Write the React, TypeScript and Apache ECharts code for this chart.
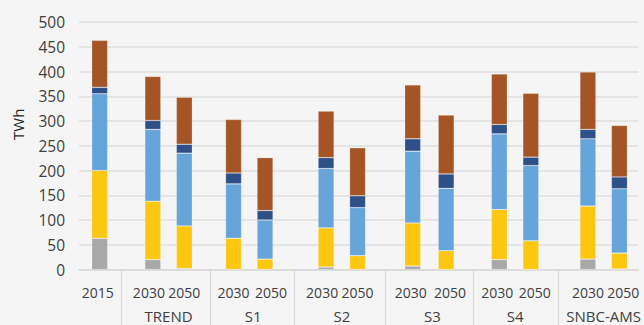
import React, { useEffect, useRef } from "react";
import * as echarts from "echarts";

// ---- data ----
const groups = ["", "TREND", "S1", "S2", "S3", "S4", "SNBC-AMS"];
const periods = ["2015", "2030", "2050", "2030", "2050", "2030", "2050", "2030", "2050", "2030", "2050", "2030", "2050"];
const seriesNames = ["Série 1", "Série 2", "Série 3", "Série 4", "Série 5"];
const grey = [63, 20, 2, 0, 0, 5, 0, 7, 0, 20, 0, 21, 1];
const yellow = [137, 118, 86, 63, 21, 79, 28, 87, 38, 101, 58, 107, 32];
const lightBlue = [155, 145, 147, 110, 79, 120, 97, 145, 126, 153, 152, 136, 130];
const darkBlue = [13, 18, 18, 22, 19, 22, 24, 25, 29, 19, 17, 19, 24];
const brown = [95, 89, 95, 108, 107, 94, 97, 109, 119, 102, 129, 116, 104];
const yMax = 500;
const yStep = 50;
const yName = "TWh";

// ---- layout (fine slots along the x axis) ----
const SLOTS = 284;
const barSlots = [10, 37, 53, 78, 94, 125, 141, 169, 186, 213, 229, 258, 274];
const periodLabelSlots = [9, 35, 53, 78, 97, 123, 141, 168, 188, 212, 231, 258, 276];
const groupLabelSlots = [-1, 45, 88, 133, 179, 221, 266];
const separatorSlots = [21, 66, 109, 155, 200, 243];
const colors = ["#a8a8a8", "#fdc60f", "#66a5da", "#2d5089", "#a55525"];

const FONT = "'Open Sans', Lato, sans-serif";

export default function App() {
  const ref = useRef<HTMLDivElement>(null);
  useEffect(() => {
    if (!ref.current) return;
    const chart = echarts.init(ref.current, undefined, { renderer: "svg" });

    const categories = Array.from({ length: SLOTS }, (_, i) => String(i));
    const labelMap = new Map<number, string>();
    periodLabelSlots.forEach((s, i) => labelMap.set(s, periods[i]));
    groupLabelSlots.forEach((s, i) => {
      if (s >= 0 && groups[i]) labelMap.set(s, "{g|" + groups[i] + "}");
    });
    const sepSet = new Set(separatorSlots);

    const spread = (vals: number[]) => {
      const arr: (number | null)[] = Array(SLOTS).fill(null);
      barSlots.forEach((s, i) => (arr[s] = vals[i]));
      return arr;
    };
    const all = [grey, yellow, lightBlue, darkBlue, brown];

    chart.setOption({
      animation: false,
      backgroundColor: "#f5f5f5",
      grid: { left: 79, right: 5, top: 22, bottom: 55.5 },
      xAxis: {
        type: "category",
        data: categories,
        boundaryGap: true,
        axisLine: { show: true, lineStyle: { color: "#d9d9d9", width: 1.5 } },
        axisTick: {
          show: true,
          alignWithLabel: true,
          interval: (i: number) => sepSet.has(i),
          length: 56,
          lineStyle: { color: "#d9d9d9", width: 1.3 },
        },
        axisLabel: {
          interval: (i: number) => labelMap.has(i),
          formatter: (_v: string, i: number) => labelMap.get(i) ?? "",
          margin: 16,
          fontSize: 14,
          color: "#404040",
          fontFamily: FONT,
          rich: {
            g: { fontSize: 15, color: "#404040", fontFamily: FONT, padding: [23, 0, 0, 0] },
          },
        },
        splitLine: { show: false },
      },
      yAxis: {
        type: "value",
        min: 0,
        max: yMax,
        interval: yStep,
        name: yName,
        nameLocation: "middle",
        nameGap: 54,
        nameRotate: 90,
        nameTextStyle: { fontSize: 15, color: "#262626", fontFamily: FONT, padding: [0, 0, 0, 43] },
        axisLine: { show: false },
        axisTick: { show: false },
        axisLabel: { fontSize: 15.5, color: "#404040", fontFamily: FONT, margin: 14 },
        splitLine: { lineStyle: { color: "#dedede", width: 1.5 } },
      },
      series: all.map((vals, k) => ({
        name: seriesNames[k],
        type: "bar",
        stack: "total",
        barWidth: 16,
        data: spread(vals),
        itemStyle: { color: colors[k], borderColor: "rgba(255,255,255,0.35)", borderWidth: 0.6 },
      })),
    });
    return () => chart.dispose();
  }, []);
  return <div ref={ref} style={{ position: "absolute", left: 0, top: 0, width: 644, height: 325 }} />;
}
